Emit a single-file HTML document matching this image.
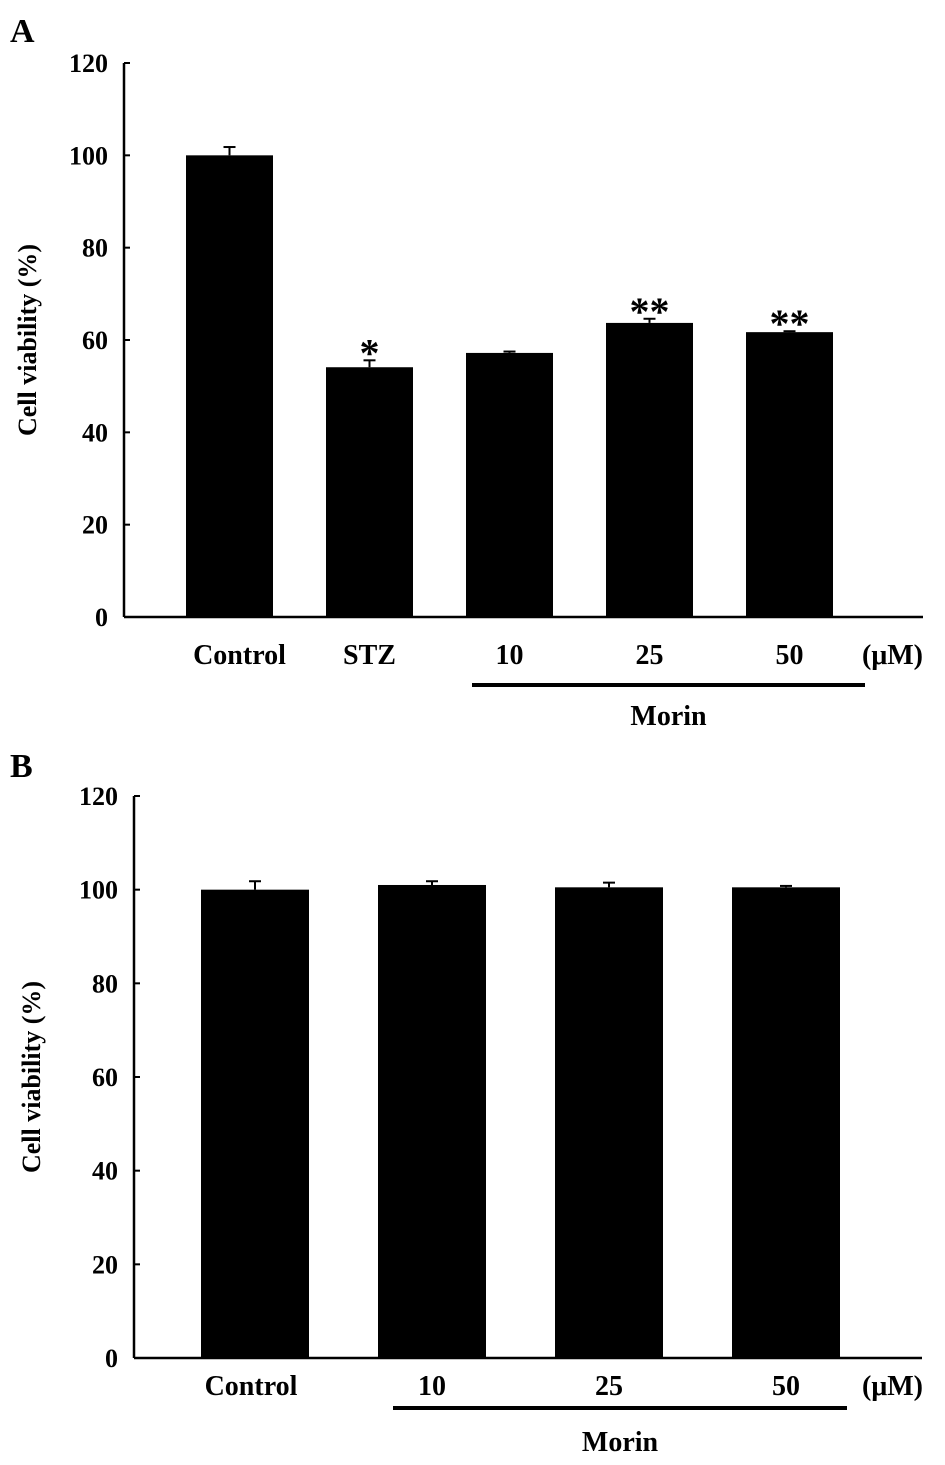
<!DOCTYPE html>
<html><head><meta charset="utf-8"><style>
html,body{margin:0;padding:0;background:#fff;}
svg{display:block;}
text{font-family:"Liberation Serif",serif;font-weight:bold;fill:#000;}
</style></head><body>
<svg id="fig" width="945" height="1465" viewBox="0 0 945 1465" xmlns="http://www.w3.org/2000/svg">
<text x="10" y="42" font-size="34">A</text>
<text x="10" y="777" font-size="34">B</text>
<g id="chartA"></g>
<g id="chartB"></g>
</svg>
<script>
const catsA = ["Control","STZ","10","25","50"];
const valsA = [100, 54.1, 57.2, 63.7, 61.7];
const errsA = [1.8, 1.5, 0.3, 0.9, 0.2];
const sigA = ["", "*", "", "**", "**"];
const catsB = ["Control","10","25","50"];
const valsB = [100, 101, 100.5, 100.5];
const errsB = [1.8, 0.8, 1, 0.3];
const ticks = [0,20,40,60,80,100,120];

const NS="http://www.w3.org/2000/svg";
function mk(parent, tag, attrs, txt){
  const e=document.createElementNS(NS,tag);
  for(const k in attrs) e.setAttribute(k,attrs[k]);
  if(txt!==undefined) e.textContent=txt;
  parent.appendChild(e); return e;
}
function draw(g, cfg, cats, vals, errs, sig){
  const y=v=>cfg.y0-(v/120)*(cfg.y0-cfg.y120);
  const ax=mk(g,'line',{x1:cfg.ax,y1:cfg.y120,x2:cfg.ax,y2:cfg.y0,stroke:'#000','stroke-width':2.5});
   
  const xa=mk(g,'line',{x1:cfg.ax,y1:cfg.y0,x2:cfg.xEnd,y2:cfg.y0,stroke:'#000','stroke-width':2.5});
   
  ticks.forEach(t=>{
    const tk=mk(g,'line',{x1:cfg.ax,y1:y(t),x2:cfg.ax+6,y2:y(t),stroke:'#000','stroke-width':2});
     
    const tl=mk(g,'text',{x:cfg.ax-16,y:y(t)+9,'font-size':26,'text-anchor':'end'},String(t));
     
  });
  const ttl=mk(g,'text',{x:0,y:0,'font-size':26,'text-anchor':'middle',transform:`translate(${cfg.titleX},${(cfg.y0+cfg.y120)/2}) rotate(-90)`},'Cell viability (%)');
   
  cats.forEach((c,i)=>{
    const x=cfg.x0+i*cfg.step, cx=x+cfg.w/2;
    const b=mk(g,'rect',{x:x,y:y(vals[i]),width:cfg.w,height:cfg.y0-y(vals[i]),fill:'#000'});
     
    const top=y(vals[i]+errs[i]);
    const e1=mk(g,'line',{x1:cx,y1:y(vals[i]),x2:cx,y2:top,stroke:'#000','stroke-width':2});
     
    const e2=mk(g,'line',{x1:cx-6,y1:top,x2:cx+6,y2:top,stroke:'#000','stroke-width':2});
     
    if(sig && sig[i]){
      const s=mk(g,'text',{x:cx,y:top+6,'font-size':40,'text-anchor':'middle'},sig[i]);
       
    }
    const l=mk(g,'text',{x:cx+cfg.lblShift*(i===0?1:0),y:cfg.y0+cfg.lblDy,'font-size':28,'text-anchor':'middle'},c);
     
  });
  const u=mk(g,'text',{x:cfg.unitX,y:cfg.y0+cfg.lblDy,'font-size':28,'text-anchor':'start'},'(μM)');
   
  const ln=mk(g,'line',{x1:cfg.lineX1,y1:cfg.y0+cfg.lineDy,x2:cfg.lineX2,y2:cfg.y0+cfg.lineDy,stroke:'#000','stroke-width':4});
   
  const m=mk(g,'text',{x:(cfg.lineX1+cfg.lineX2)/2,y:cfg.y0+cfg.morinDy,'font-size':28,'text-anchor':'middle'},'Morin');
   
}
draw(document.getElementById('chartA'),{ax:124,y0:617,y120:63,xEnd:923,x0:186,step:140,w:87,titleX:36,unitX:862,lineX1:472,lineX2:865,lblDy:47,lblShift:10,lineDy:68,morinDy:108},catsA,valsA,errsA,sigA);
draw(document.getElementById('chartB'),{ax:134,y0:1358,y120:796,xEnd:922,x0:201,step:177,w:108,titleX:40,unitX:862,lineX1:393,lineX2:847,lblDy:37,lblShift:-4,lineDy:50,morinDy:93},catsB,valsB,errsB,null);
</script>
</body></html>
